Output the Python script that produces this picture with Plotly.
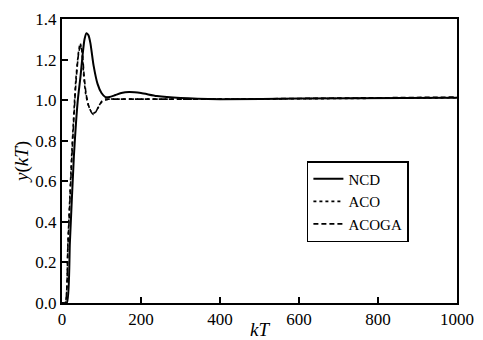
import plotly.graph_objects as go

# NCD
ncd_x = [0, 12, 20, 30, 40, 47, 52, 57, 62, 67, 72, 80, 90, 100, 110, 120, 135, 150, 170, 200, 240, 300, 400, 600, 1000]
ncd_y = [0, 0, 0.3, 0.72, 1.0, 1.12, 1.22, 1.30, 1.33, 1.32, 1.28, 1.17, 1.08, 1.035, 1.015, 1.015, 1.025, 1.035, 1.04, 1.035, 1.02, 1.01, 1.005, 1.008, 1.012]

# ACO
aco_x = [0, 8, 15, 25, 35, 42, 46, 50, 55, 60, 66, 72, 78, 84, 92, 100, 110, 120, 140, 200, 400, 700, 1000]
aco_y = [0, 0, 0.3, 0.75, 1.1, 1.24, 1.28, 1.25, 1.12, 1.03, 0.98, 0.95, 0.935, 0.94, 0.965, 0.99, 1.0, 1.005, 1.005, 1.005, 1.005, 1.008, 1.012]

# ACOGA
acoga_x = [0, 8, 15, 25, 35, 42, 47, 51, 56, 61, 67, 73, 79, 85, 93, 101, 110, 120, 140, 200, 400, 700, 1000]
acoga_y = [0, 0, 0.28, 0.72, 1.08, 1.23, 1.27, 1.24, 1.12, 1.03, 0.975, 0.945, 0.93, 0.94, 0.97, 0.995, 1.005, 1.005, 1.005, 1.005, 1.005, 1.01, 1.015]

x_ticks = [0, 200, 400, 600, 800, 1000]
y_ticks = [0.0, 0.2, 0.4, 0.6, 0.8, 1.0, 1.2, 1.4]

FONT = "Liberation Serif, Times New Roman, serif"

fig = go.Figure()
fig.add_trace(go.Scatter(x=ncd_x, y=ncd_y, name="NCD", mode="lines",
                         line=dict(color="black", width=2, shape="spline", smoothing=0.6)))
fig.add_trace(go.Scatter(x=aco_x, y=aco_y, name="ACO", mode="lines",
                         line=dict(color="black", width=1.6, dash="dot", shape="spline", smoothing=0.6)))
fig.add_trace(go.Scatter(x=acoga_x, y=acoga_y, name="ACOGA", mode="lines",
                         line=dict(color="black", width=1.6, dash="5px,3px", shape="spline", smoothing=0.6)))

axis_common = dict(showgrid=False, zeroline=False, showline=True, linecolor="black", linewidth=2,
                   mirror=True, ticks="inside", ticklen=6, tickwidth=1.5, tickcolor="black",
                   automargin=False,
                   tickfont=dict(family=FONT, size=17, color="black"))

fig.update_xaxes(range=[0, 1000], tickvals=x_ticks, ticktext=[str(v) for v in x_ticks],
                 title=dict(text="<i>kT</i>", font=dict(family=FONT, size=19, color="black"), standoff=0),
                 **axis_common)
fig.update_yaxes(range=[0, 1.4], tickvals=y_ticks, ticktext=[f"{v:.1f}" for v in y_ticks],
                 title=dict(text="<i>y</i>(<i>kT</i>)", font=dict(family=FONT, size=19, color="black"), standoff=2),
                 **axis_common)

fig.update_layout(
    width=475, height=332,
    margin=dict(l=54, r=26, t=11, b=37),
    paper_bgcolor="white", plot_bgcolor="white",
    font=dict(family=FONT, color="black"),
    legend=dict(x=0.62, y=0.357, xanchor="left", yanchor="middle",
                bordercolor="black", borderwidth=1.5, bgcolor="white",
                font=dict(family=FONT, size=15, color="black"),
                itemwidth=30, tracegroupgap=0, entrywidth=80),
    showlegend=True,
)

fig.write_html("out.html")
